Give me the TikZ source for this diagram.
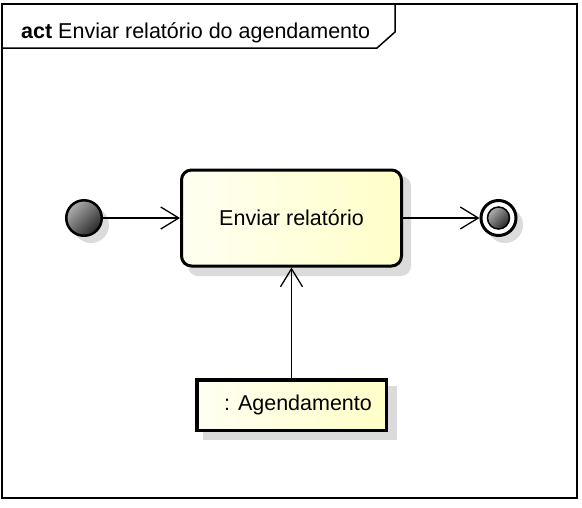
\documentclass[tikz,border=0pt]{standalone}
\usepackage{fontspec}
\setmainfont{Liberation Sans}
\usetikzlibrary{arrows.meta,shapes.geometric}
\definecolor{paleA}{RGB}{255,255,242}
\definecolor{paleB}{RGB}{255,255,200}
\definecolor{ballA}{RGB}{175,175,175}
\definecolor{ballB}{RGB}{40,40,40}
\begin{document}
\begin{tikzpicture}[x=1pt,y=-1pt,
  shadowc/.style={fill=black!14, draw=none},
  flow/.style={line width=1.3pt, -{Straight Barb[length=18pt,width=22pt,line width=1.3pt]}},
  lbl/.style={font=\fontsize{21.5}{25}\selectfont},
  ball/.style={circle, draw, inner sep=0pt, top color=ballA, bottom color=ballB, shading angle=45},
  yellowfill/.style={left color=paleA, right color=paleB},
]
\useasboundingbox (0,0) rectangle (582,507);
\fill[white] (0,0) rectangle (582,507);
% frame
\draw[line width=2pt] (2,4) rectangle (577,498);
\draw[line width=1.5pt] (2,48) -- (377,48) -- (395,32) -- (395,4);
\node[lbl, anchor=base west, inner sep=0pt] (title) at (21,38) {\textbf{act} Enviar relatório do agendamento};
% shadows
\fill[shadowc, rounded corners=10pt] (188,176) rectangle (411,276);
\fill[shadowc] (91,225) circle (18);
\fill[shadowc] (505,225) circle (18);
\fill[shadowc] (203,386) rectangle (397,440);
% nodes
\node[draw, line width=3pt, rounded corners=10pt, minimum width=220pt, minimum height=96pt, yellowfill, lbl] (act) at (291.5,218) {Enviar relatório};
\node[ball, line width=2.5pt, minimum size=35.5pt] (init) at (84,218) {};
\node[circle, draw, line width=3pt, minimum size=35pt, inner sep=0pt, fill=white] (fin) at (498.5,218) {};
\node[ball, line width=1.5pt, minimum size=22pt] (finin) at (fin) {};
\node[draw, line width=3.5pt, minimum width=189.5pt, minimum height=50.5pt, yellowfill, lbl] (obj) at (291.5,405) {\hspace*{13pt}: Agendamento};
% edges
\draw[flow] (init) -- (act);
\draw[flow] (act) -- (fin);
\draw[flow] (obj) -- (act);
\end{tikzpicture}
\end{document}
